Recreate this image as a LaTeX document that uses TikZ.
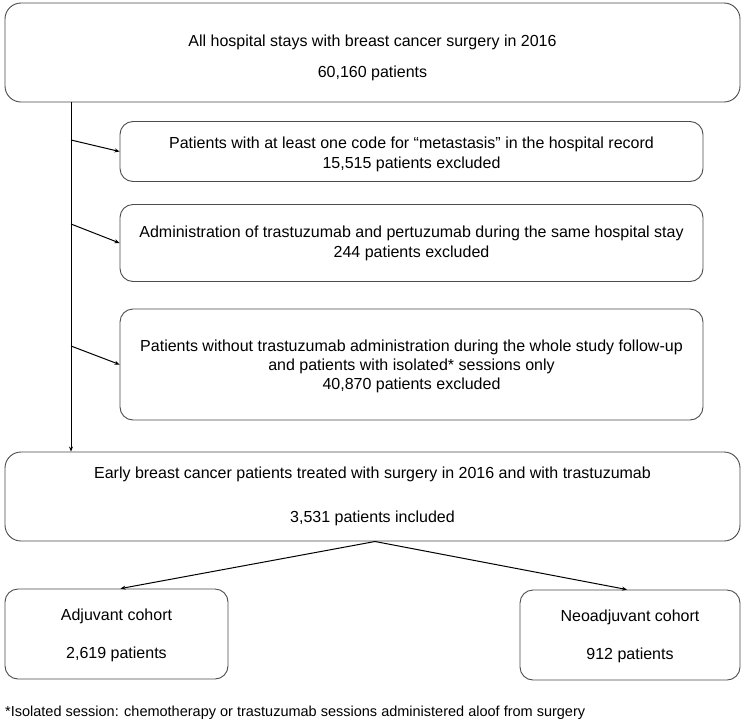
\documentclass[tikz,border=0pt]{standalone}
\usepackage{fontspec}
\setmainfont{Liberation Sans}
\usetikzlibrary{arrows.meta}
\begin{document}
\begin{tikzpicture}[x=1pt,y=-1pt,
  box/.style={draw=black!70, line width=0.9pt, rounded corners=13pt, align=center,
    inner sep=0pt, font=\fontsize{16}{19}\selectfont},
  bigbox/.style={box, rounded corners=16pt},
  conn/.style={draw=black, line width=1pt, -{Stealth[length=5pt,width=4pt]}}]
\useasboundingbox (0,0) rectangle (744,726);
\fill[white] (0,0) rectangle (744,726);
\node[bigbox, minimum width=735pt, minimum height=99pt] (top) at (372.5,52.5)
  {\rule{0pt}{22pt}All hospital stays with breast cancer surgery in 2016\\[12pt]60,160 patients};
\node[box, minimum width=583pt, minimum height=60pt] (b1) at (411.5,151.5)
  {\rule{0pt}{17pt}Patients with at least one code for “metastasis” in the hospital record\\[1pt]15,515 patients excluded};
\node[box, minimum width=583pt, minimum height=77pt] (b2) at (411.5,243)
  {Administration of trastuzumab and pertuzumab during the same hospital stay\\[1pt]244 patients excluded};
\node[box, minimum width=583pt, minimum height=111pt] (b3) at (411.5,364.5)
  {\rule{0pt}{16pt}Patients without trastuzumab administration during the whole study follow-up\\and patients with isolated* sessions only\\40,870 patients excluded};
\node[bigbox, minimum width=735pt, minimum height=89pt] (b4) at (372.5,496.5)
  {Early breast cancer patients treated with surgery in 2016 and with trastuzumab\\[25pt]3,531 patients included};
\node[box, minimum width=223pt, minimum height=90pt] (adj) at (116.5,634)
  {\rule{0pt}{14pt}Adjuvant cohort\\[19pt]2,619 patients};
\node[box, minimum width=220pt, minimum height=90pt] (neo) at (630,635)
  {\rule{0pt}{14pt}Neoadjuvant cohort\\[19pt]912 patients};
\node[anchor=west, inner sep=0pt, font=\fontsize{14.5}{17}\selectfont] (foot) at (5,713)
  {*Isolated session: chemotherapy or trastuzumab sessions administered aloof from surgery};
\coordinate (vt) at (71,102);
\coordinate (v1) at (71,140);
\coordinate (v2) at (71,224);
\coordinate (v3) at (71,346);
\coordinate (split) at (375,541.5);
\draw[conn] (vt) -- (b4.north -| vt);
\draw[conn] (v1) -- (b1.west);
\draw[conn] (v2) -- (b2.west);
\draw[conn] (v3) -- (b3.west);
\draw[conn] (split) -- ([xshift=4pt]adj.north);
\draw[conn] (split) -- ([xshift=-3pt]neo.north);
\end{tikzpicture}
\end{document}
